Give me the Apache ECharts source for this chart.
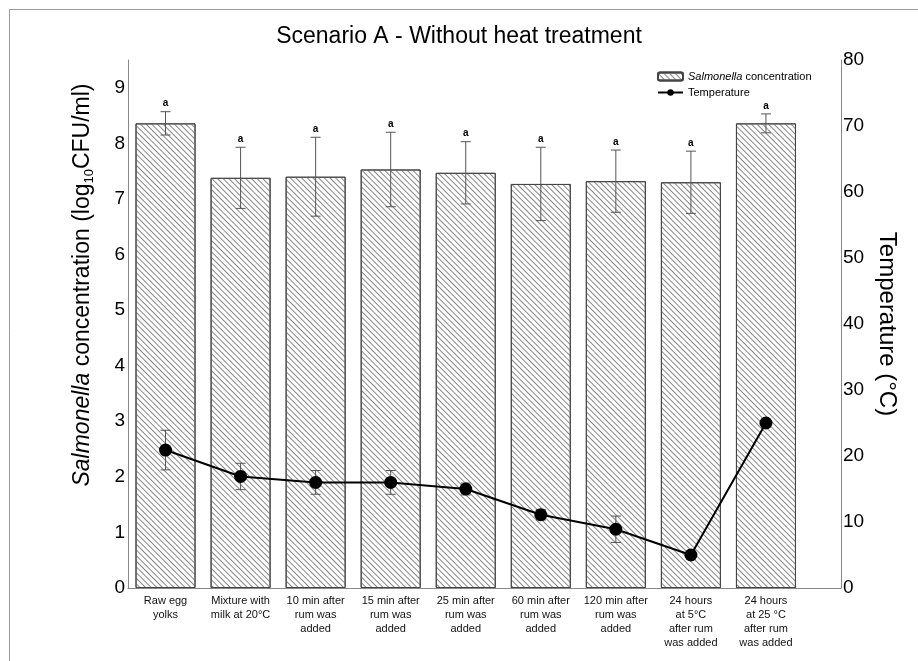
<!DOCTYPE html>
<html>
<head>
<meta charset="utf-8">
<script src="https://cdn.jsdelivr.net/npm/echarts@6/dist/echarts.min.js"></script>
<style>html,body{margin:0;padding:0;background:#fff}#c{width:918px;height:661px}</style>
</head>
<body>
<div id="c"></div>
<script>
const categories = ['Raw egg\nyolks', 'Mixture with\nmilk at 20°C', '10 min after\nrum was\nadded', '15 min after\nrum was\nadded', '25 min after\nrum was\nadded', '60 min after\nrum was\nadded', '120 min after\nrum was\nadded', '24 hours\nat 5°C\nafter rum\nwas added', '24 hours\nat 25 °C\nafter rum\nwas added'];
const salmonella = [8.36, 7.38, 7.40, 7.53, 7.47, 7.27, 7.32, 7.30, 8.36];
const salmonellaErr = [0.21, 0.55, 0.71, 0.67, 0.56, 0.66, 0.56, 0.56, 0.17];
const letters = ['a', 'a', 'a', 'a', 'a', 'a', 'a', 'a', 'a'];
const temperature = [20.9, 16.9, 16.0, 16.0, 15.0, 11.1, 8.9, 5.0, 25.0];
const tempErr = [3.0, 2.0, 1.8, 1.8, 0.9, 0.8, 2.0, 0, 0];
const leftTicks = [0, 1, 2, 3, 4, 5, 6, 7, 8, 9];
const rightTicks = [0, 10, 20, 30, 40, 50, 60, 70, 80];

const FONT = 'Liberation Sans, Arial, sans-serif';
const idx = categories.map((_, i) => i);

function errRender(withLetter) {
  return function (params, api) {
    const i = api.value(0), v = api.value(1), e = api.value(2);
    const top = api.coord([i, v + e]);
    const bot = api.coord([i, v - e]);
    const children = [];
    if (e > 0) {
      const st = { stroke: '#555', lineWidth: 1 };
      children.push({ type: 'line', shape: { x1: top[0], y1: top[1], x2: bot[0], y2: bot[1] }, style: st });
      children.push({ type: 'line', shape: { x1: top[0] - 5, y1: top[1], x2: top[0] + 5, y2: top[1] }, style: st });
      children.push({ type: 'line', shape: { x1: bot[0] - 5, y1: bot[1], x2: bot[0] + 5, y2: bot[1] }, style: st });
    }
    if (withLetter) {
      children.push({ type: 'text', x: top[0], y: top[1] - 8, style: { text: letters[params.dataIndex], fill: '#000', font: 'bold 10px ' + FONT, align: 'center', verticalAlign: 'middle' } });
    }
    return { type: 'group', children: children };
  };
}

const chart = echarts.init(document.getElementById('c'));
chart.setOption({
  backgroundColor: '#fff',
  animation: false,
  title: {
    text: 'Scenario A - Without heat treatment', left: 'center', top: 20,
    textStyle: { fontFamily: FONT, fontSize: 23, fontWeight: 'normal', color: '#000' }
  },
  graphic: [{ type: 'rect', silent: true, shape: { x: 9.5, y: 9.5, width: 1000, height: 1000 }, style: { fill: 'none', stroke: '#999', lineWidth: 1 } }],
  legend: {
    orient: 'vertical', left: 652, top: 66, itemWidth: 25, itemHeight: 8, itemGap: 5,
    data: ['Salmonella concentration', 'Temperature'],
    formatter: n => n === 'Salmonella concentration' ? '{i|Salmonella} concentration' : n,
    textStyle: { fontFamily: FONT, fontSize: 11, color: '#000', rich: { i: { fontFamily: FONT, fontSize: 11, fontStyle: 'italic' } } }
  },
  grid: { left: 128, right: 77, top: 60, bottom: 73 },
  xAxis: {
    type: 'value', min: -0.5, max: 9,
    axisLine: { show: true, onZero: false, lineStyle: { color: '#888', width: 1 } },
    axisTick: { show: false }, splitLine: { show: false },
    axisLabel: {
      customValues: idx, formatter: v => categories[Math.round(v)],
      fontFamily: FONT, fontSize: 11, lineHeight: 14, color: '#111', margin: 6
    }
  },
  yAxis: [{
    type: 'value', min: 0, max: 9.5, interval: 1,
    name: '{i|Salmonella} concentration (log{sub|10}CFU/ml)', nameLocation: 'middle', nameGap: 32, nameRotate: 90,
    nameTextStyle: { fontFamily: FONT, fontSize: 23, color: '#000', padding: [0, 0, 0, 78],
      rich: { i: { fontFamily: FONT, fontSize: 23, fontStyle: 'italic' }, sub: { fontFamily: FONT, fontSize: 13, padding: [14, 0, 0, 0] } } },
    axisLine: { show: true, onZero: false, lineStyle: { color: '#888', width: 1 } },
    axisTick: { show: false }, splitLine: { show: false },
    axisLabel: { customValues: leftTicks, fontFamily: FONT, fontSize: 19, color: '#000', margin: 3 }
  }, {
    type: 'value', min: 0, max: 80, interval: 10, position: 'right',
    name: 'Temperature (°C)', nameLocation: 'middle', nameGap: 28, nameRotate: -90,
    nameTextStyle: { fontFamily: FONT, fontSize: 24, color: '#000' },
    axisLine: { show: true, onZero: false, lineStyle: { color: '#888', width: 1 } },
    axisTick: { show: false }, splitLine: { show: false },
    axisLabel: { customValues: rightTicks, fontFamily: FONT, fontSize: 19, color: '#000', margin: 2 }
  }],
  series: [{
    name: 'Salmonella concentration', type: 'bar', barWidth: 60,
    data: salmonella.map((v, i) => [i, v]),
    itemStyle: { color: '#fff', borderColor: '#444', borderWidth: 1,
      decal: { symbol: 'rect', dashArrayX: [1, 0], dashArrayY: [1, 3], rotation: Math.PI / 4, color: '#888' } }
  }, {
    type: 'custom', name: 'serr', renderItem: errRender(true),
    data: salmonella.map((v, i) => [i, v, salmonellaErr[i]]), z: 5
  }, {
    type: 'custom', name: 'terr', yAxisIndex: 1, renderItem: errRender(false),
    data: temperature.map((v, i) => [i, v, tempErr[i]]), z: 5
  }, {
    name: 'Temperature', type: 'line', yAxisIndex: 1, z: 10,
    data: temperature.map((v, i) => [i, v]),
    symbol: 'circle', symbolSize: 13,
    itemStyle: { color: '#000' }, lineStyle: { color: '#000', width: 2 }
  }]
});
</script>
</body>
</html>
